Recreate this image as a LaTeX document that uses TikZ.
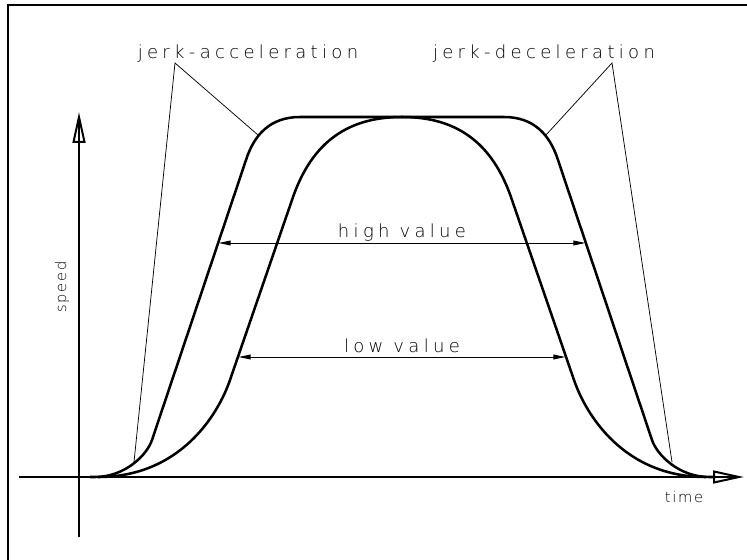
\documentclass[tikz,border=0pt]{standalone}
\usepackage{fontspec}
\newfontfamily\cad{DejaVu Sans ExtraLight}[LetterSpace=24]
\newfontfamily\cads{DejaVu Sans ExtraLight}[LetterSpace=12]
\usetikzlibrary{arrows.meta}
\begin{document}
\begin{tikzpicture}[x=0.75pt,y=-0.75pt,
  frame/.style={line width=1.5pt},
  axis/.style={line width=1.5pt},
  curve/.style={line width=1.9pt, line join=round},
  leader/.style={line width=0.55pt},
  dim/.style={line width=0.7pt, {Triangle[length=9pt,width=3.6pt]}-{Triangle[length=9pt,width=3.6pt]}},
  lbl/.style={font=\cad\fontsize{13.5}{16}\selectfont, anchor=base, inner sep=0pt},
  slbl/.style={font=\cads\fontsize{11}{13}\selectfont, inner sep=0pt}]
\useasboundingbox (0,0) rectangle (747,560);
% frame
\draw[frame] (8,560) -- (8,5) -- (747,5);
% axes
\coordinate (xs) at (19,477);
\coordinate (xe) at (739,477);
\coordinate (ys) at (79,537);
\coordinate (ye) at (79,117);
\draw[axis] (xs) -- (xe);
\draw[axis, line join=miter] (714,471.5) -- (xe) -- (714,482.5) -- cycle;
\draw[axis] (ys) -- (ye);
\draw[axis, line join=miter] (73.5,142) -- (ye) -- (84.5,142) -- cycle;
% outer (high value) curve
\draw[curve] (90,477) -- (95,477) .. controls (125,477) and (147,455) .. (152,440)
  -- (246,160) .. controls (254,135) and (270,117) .. (300,117)
  -- (504,117) .. controls (534,117) and (550,135) .. (558,160)
  -- (652,440) .. controls (657,455) and (679,477) .. (709,477) -- (714,477);
% inner (low value) curve
\draw[curve] (98,477) .. controls (180,477) and (218,415) .. (230,380)
  -- (292,200) .. controls (312,140) and (350,117) .. (402,117)
  .. controls (454,117) and (492,140) .. (512,200)
  -- (574,380) .. controls (586,415) and (624,477) .. (706,477);
% labels
\node[lbl] (jacc) at (248,59) {jerk-acceleration};
\node[lbl] (jdec) at (544,59) {jerk-deceleration};
\node[lbl] (high) at (402,237) {high value};
\node[lbl] (low) at (402,352) {low value};
\node[slbl, anchor=base] (time) at (684,502) {time};
\node[slbl, rotate=90] (speed) at (62,287) {speed};
% leaders
\coordinate (la) at (175,63);
\coordinate (la1) at (258,135);
\coordinate (la2) at (134,462);
\coordinate (ra) at (612,63);
\coordinate (ra1) at (546,135);
\coordinate (ra2) at (672,462);
\draw[leader] (la2) -- (la) -- (la1);
\draw[leader] (ra2) -- (ra) -- (ra1);
% dimension lines
\coordinate (h1) at (218.6,243);
\coordinate (h2) at (585.4,243);
\coordinate (l1) at (238.6,357);
\coordinate (l2) at (565.4,357);
\draw[dim] (h1) -- (h2);
\draw[dim] (l1) -- (l2);
\end{tikzpicture}
\end{document}
